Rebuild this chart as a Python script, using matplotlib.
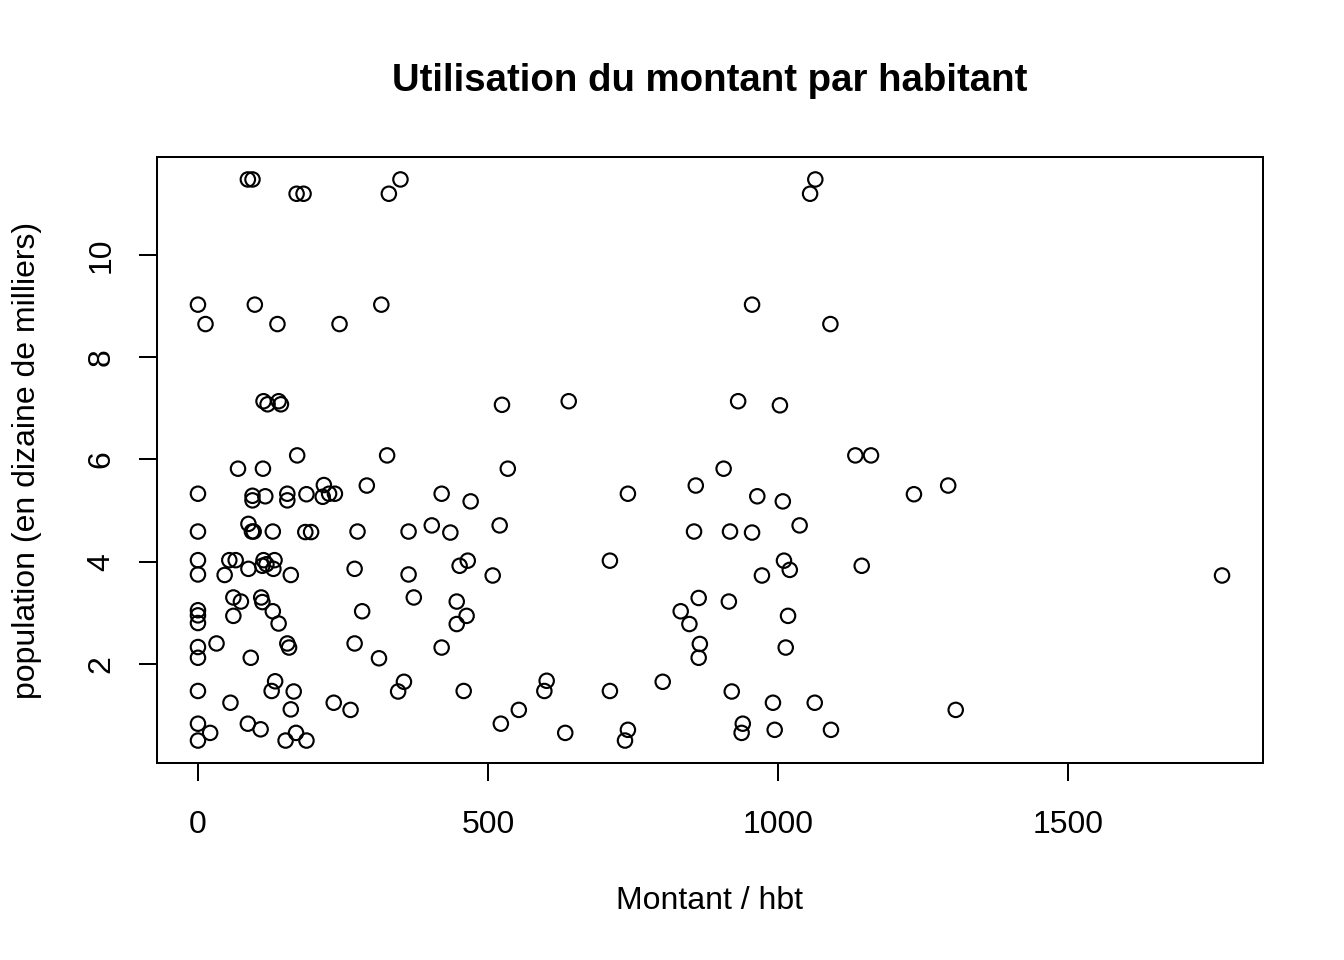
import matplotlib
matplotlib.use("Agg")
import matplotlib.pyplot as plt

plt.rcParams['font.family'] = ['Liberation Sans', 'DejaVu Sans']

montant = [
    86, 94, 170, 182, 349, 329, 0, 98, 316, 13, 137, 244, 1064, 1055, 955, 1090,
    113, 120, 139, 143, 171, 326, 69, 112, 0, 94, 94, 116, 154, 154, 187, 217,
    215, 226, 236, 291, 420, 87, 93, 96, 129, 0, 185, 195, 275, 363, 403, 0,
    0, 54, 65, 46, 87, 113, 132, 111, 118, 130, 160, 270, 363,
    61, 74, 109, 111, 129, 139, 61, 0, 0, 0, 283, 372, 0, 0, 32, 154, 157, 91,
    270, 312, 0, 133, 127, 165, 56, 160, 234, 263, 355, 345, 0, 21, 0, 86, 108,
    169, 151, 187,
    524, 639, 534, 470, 435, 520, 710, 465, 451, 508, 446, 463, 446, 420, 458,
    601, 597, 710, 801, 553, 522, 633, 741, 736,
    931, 1003, 1133, 1160, 906, 858, 741, 964, 1008, 1234, 1293, 855, 917, 955,
    1037, 1010, 1020, 972, 1144, 863, 915, 832, 847, 1017, 865, 863, 1013, 920,
    991, 1063, 1306, 939, 937, 994, 1091, 1765,
]

population = [
    11.48, 11.48, 11.2, 11.2, 11.48, 11.2, 9.03, 9.03, 9.03, 8.65, 8.65, 8.65, 11.48, 11.2, 9.03, 8.65,
    7.14, 7.08, 7.14, 7.08, 6.08, 6.08, 5.82, 5.82, 5.33, 5.29, 5.20, 5.28, 5.33, 5.20, 5.32, 5.50,
    5.27, 5.33, 5.33, 5.49, 5.33, 4.74, 4.59, 4.59, 4.59, 4.59, 4.58, 4.58, 4.59, 4.59, 4.71, 4.03,
    3.75, 4.03, 4.03, 3.74, 3.86, 4.03, 4.03, 3.92, 3.95, 3.86, 3.74, 3.86, 3.75,
    3.30, 3.22, 3.30, 3.21, 3.03, 2.79, 2.94, 3.05, 2.95, 2.80, 3.03, 3.30, 2.33, 2.12, 2.40, 2.40, 2.32, 2.12,
    2.40, 2.11, 1.47, 1.66, 1.47, 1.46, 1.24, 1.11, 1.24, 1.10, 1.65, 1.46, 0.83, 0.65, 0.50, 0.83, 0.72,
    0.65, 0.50, 0.50,
    7.07, 7.14, 5.82, 5.18, 4.57, 4.71, 4.02, 4.02, 3.92, 3.73, 3.22, 2.94, 2.78, 2.32, 1.47,
    1.67, 1.47, 1.47, 1.65, 1.10, 0.83, 0.65, 0.71, 0.50,
    7.14, 7.06, 6.08, 6.08, 5.82, 5.49, 5.33, 5.28, 5.18, 5.32, 5.49, 4.59, 4.59, 4.57,
    4.71, 4.02, 3.84, 3.73, 3.92, 3.29, 3.22, 3.03, 2.78, 2.94, 2.39, 2.12, 2.32, 1.46,
    1.24, 1.24, 1.10, 0.83, 0.65, 0.71, 0.71, 3.73,
]

x_ticks = [0, 500, 1000, 1500]
y_ticks = [2, 4, 6, 8, 10]

title = "Utilisation du montant par habitant"
xlabel = "Montant / hbt"
ylabel = "population (en dizaine de milliers)"

W, H = 1344, 960
fig = plt.figure(figsize=(7, 5), dpi=192)
ax = fig.add_axes([157 / W, 1 - 763 / H, (1263 - 157) / W, (763 - 157) / H])

ax.scatter(montant, population, s=5.4 ** 2, facecolors='none',
           edgecolors='black', linewidths=0.8, zorder=3)

xmin, xmax = min(montant), max(montant)
ymin, ymax = min(population), max(population)
dx = (xmax - xmin) * 0.04
dy = (ymax - ymin) * 0.04
ax.set_xlim(xmin - dx, xmax + dx)
ax.set_ylim(ymin - dy, ymax + dy)

ax.set_xticks(x_ticks)
ax.set_xticklabels([str(v) for v in x_ticks])
ax.set_yticks(y_ticks)
ax.set_yticklabels([str(v) for v in y_ticks], rotation=90, va='center')

ax.tick_params(axis='both', direction='out', length=6.8, width=0.75,
               labelsize=12, color='black')
ax.tick_params(axis='x', pad=11)
ax.tick_params(axis='y', pad=8.3)
for sp in ax.spines.values():
    sp.set_linewidth(0.75)
    sp.set_color('black')

fig.text(710 / W, 1 - 81 / H, title, ha='center', va='center',
         fontsize=14.4, fontweight='bold')
fig.text(710 / W, 1 - 901 / H, xlabel, ha='center', va='center', fontsize=12)
fig.text(27 / W, 1 - 460 / H, ylabel, ha='center', va='center',
         rotation=90, fontsize=12)

fig.savefig("out.png", dpi=192, facecolor='white')
